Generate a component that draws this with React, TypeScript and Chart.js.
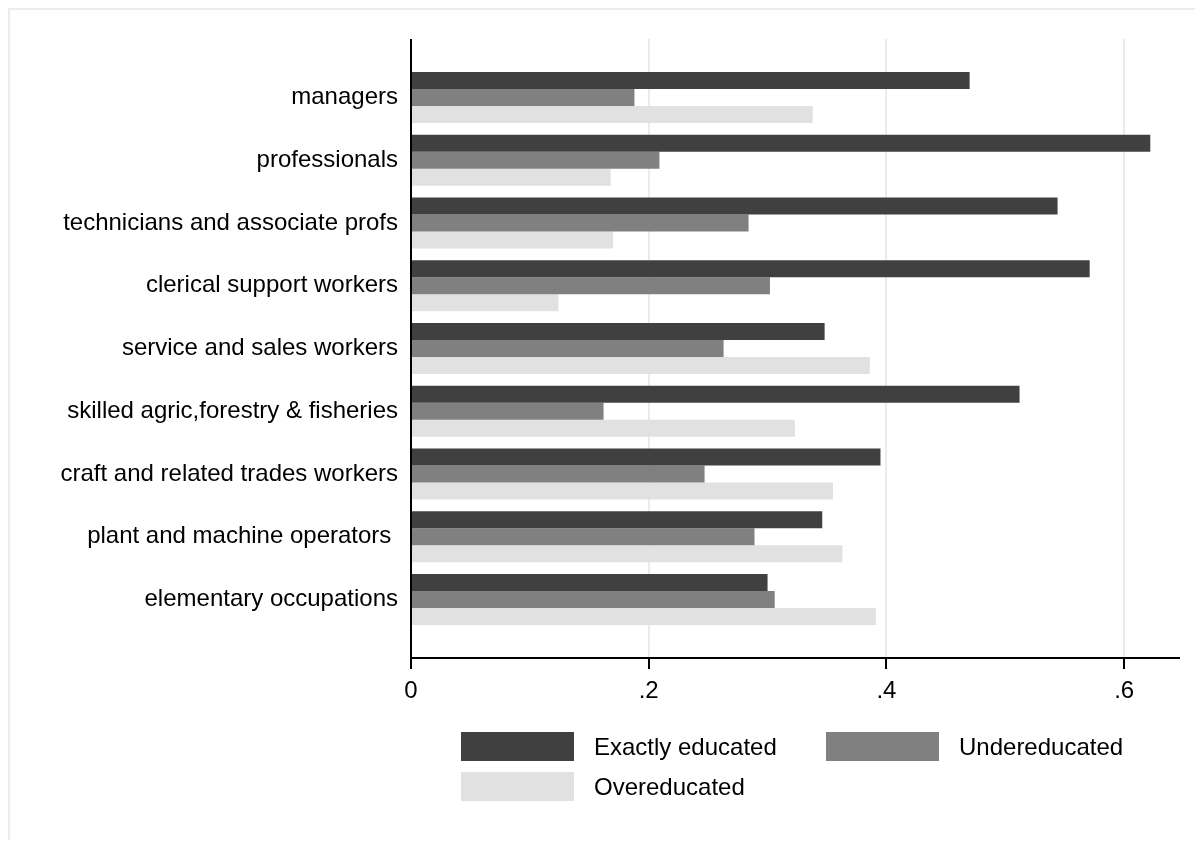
import React, { useEffect, useRef } from "react";
import { Chart, registerables } from "chart.js";

Chart.register(...registerables);

const categories = [
  "managers",
  "professionals",
  "technicians and associate profs",
  "clerical support workers",
  "service and sales workers",
  "skilled agric,forestry & fisheries",
  "craft and related trades workers",
  "plant and machine operators ",
  "elementary occupations",
];
const exactlyEducated = [0.47, 0.622, 0.544, 0.571, 0.348, 0.512, 0.395, 0.346, 0.3];
const undereducated = [0.188, 0.209, 0.284, 0.302, 0.263, 0.162, 0.247, 0.289, 0.306];
const overeducated = [0.338, 0.168, 0.17, 0.124, 0.386, 0.323, 0.355, 0.363, 0.391];
const seriesNames = ["Exactly educated", "Undereducated", "Overeducated"];
const seriesColors = ["#404040", "#808080", "#e1e1e1"];
const xTickValues = [0, 0.2, 0.4, 0.6];
const xTickLabels = ["0", ".2", ".4", ".6"];
const xMax = 0.647;

const FONT = "'Liberation Sans', Arial, Helvetica, sans-serif";
const FONT_SIZE = 24;
const AXIS_EXT = 27;

const stataAxes = {
  id: "stataAxes",
  beforeDatasetsDraw(chart: any) {
    const { ctx, chartArea, scales } = chart;
    const top = chartArea.top - AXIS_EXT;
    const bottom = chartArea.bottom + AXIS_EXT;
    ctx.save();
    ctx.strokeStyle = "#ebebeb";
    ctx.lineWidth = 2;
    xTickValues.forEach((v) => {
      if (v === 0) return;
      const x = Math.round(scales.x.getPixelForValue(v));
      ctx.beginPath();
      ctx.moveTo(x, top);
      ctx.lineTo(x, bottom);
      ctx.stroke();
    });
    ctx.restore();
  },
  afterDatasetsDraw(chart: any) {
    const { ctx, chartArea, scales } = chart;
    const top = chartArea.top - AXIS_EXT;
    const bottom = chartArea.bottom + AXIS_EXT;
    const left = chartArea.left;
    ctx.save();
    ctx.strokeStyle = "#000";
    ctx.lineWidth = 2;
    ctx.beginPath();
    ctx.moveTo(left, top);
    ctx.lineTo(left, bottom + 1);
    ctx.moveTo(left - 1, bottom);
    ctx.lineTo(chartArea.right, bottom);
    ctx.stroke();
    xTickValues.forEach((v) => {
      const x = Math.round(scales.x.getPixelForValue(v));
      ctx.beginPath();
      ctx.moveTo(x, bottom);
      ctx.lineTo(x, bottom + 11);
      ctx.stroke();
    });
    ctx.restore();
  },
};

export default function App() {
  const canvasRef = useRef<HTMLCanvasElement | null>(null);

  useEffect(() => {
    if (!canvasRef.current) return;
    const values = [exactlyEducated, undereducated, overeducated];
    const chart = new Chart(canvasRef.current, {
      type: "bar",
      data: {
        labels: categories,
        datasets: values.map((d, i) => ({
          label: seriesNames[i],
          data: d,
          backgroundColor: seriesColors[i],
          borderWidth: 0,
          categoryPercentage: 0.8127,
          barPercentage: 1,
        })),
      },
      options: {
        indexAxis: "y",
        animation: false,
        responsive: true,
        maintainAspectRatio: false,
        layout: { padding: { top: 56, right: 23, left: 0, bottom: 0 } },
        plugins: { legend: { display: false }, tooltip: { enabled: false } },
        scales: {
          y: {
            type: "category",
            grid: { display: false, drawTicks: false },
            border: { display: false },
            ticks: {
              color: "#000",
              padding: 13,
              font: { family: FONT, size: FONT_SIZE },
            },
            afterFit(scale: any) {
              scale.width = 401;
            },
          },
          x: {
            type: "linear",
            min: 0,
            max: xMax,
            grid: { display: false, drawTicks: false },
            border: { display: false },
            afterBuildTicks(scale: any) {
              scale.ticks = xTickValues.map((v) => ({ value: v }));
            },
            ticks: {
              color: "#000",
              padding: 46,
              autoSkip: false,
              maxRotation: 0,
              font: { family: FONT, size: FONT_SIZE },
              callback: (_v: any, i: number) => xTickLabels[i],
            },
            afterFit(scale: any) {
              scale.height = 209;
            },
          },
        },
      },
      plugins: [stataAxes],
    } as any);
    return () => chart.destroy();
  }, []);

  const legendPos = [
    { left: 451, top: 722 },
    { left: 816, top: 722 },
    { left: 451, top: 762 },
  ];

  return (
    <div
      style={{
        position: "relative",
        width: 1195,
        height: 832,
        boxSizing: "border-box",
        borderTop: "2px solid #ececec",
        borderLeft: "2px solid #ececec",
        background: "#fff",
        overflow: "hidden",
      }}
    >
      <div style={{ position: "absolute", left: 0, top: 0, width: 1193, height: 830 }}>
        <canvas ref={canvasRef} />
      </div>
      {seriesNames.map((name, i) => (
        <div
          key={name}
          style={{
            position: "absolute",
            left: legendPos[i].left,
            top: legendPos[i].top,
            height: 29,
            display: "flex",
            alignItems: "center",
            fontFamily: FONT,
            fontSize: FONT_SIZE,
            color: "#000",
            whiteSpace: "nowrap",
          }}
        >
          <div style={{ width: 113, height: 29, background: seriesColors[i], marginRight: 20 }} />
          <span>{name}</span>
        </div>
      ))}
    </div>
  );
}
